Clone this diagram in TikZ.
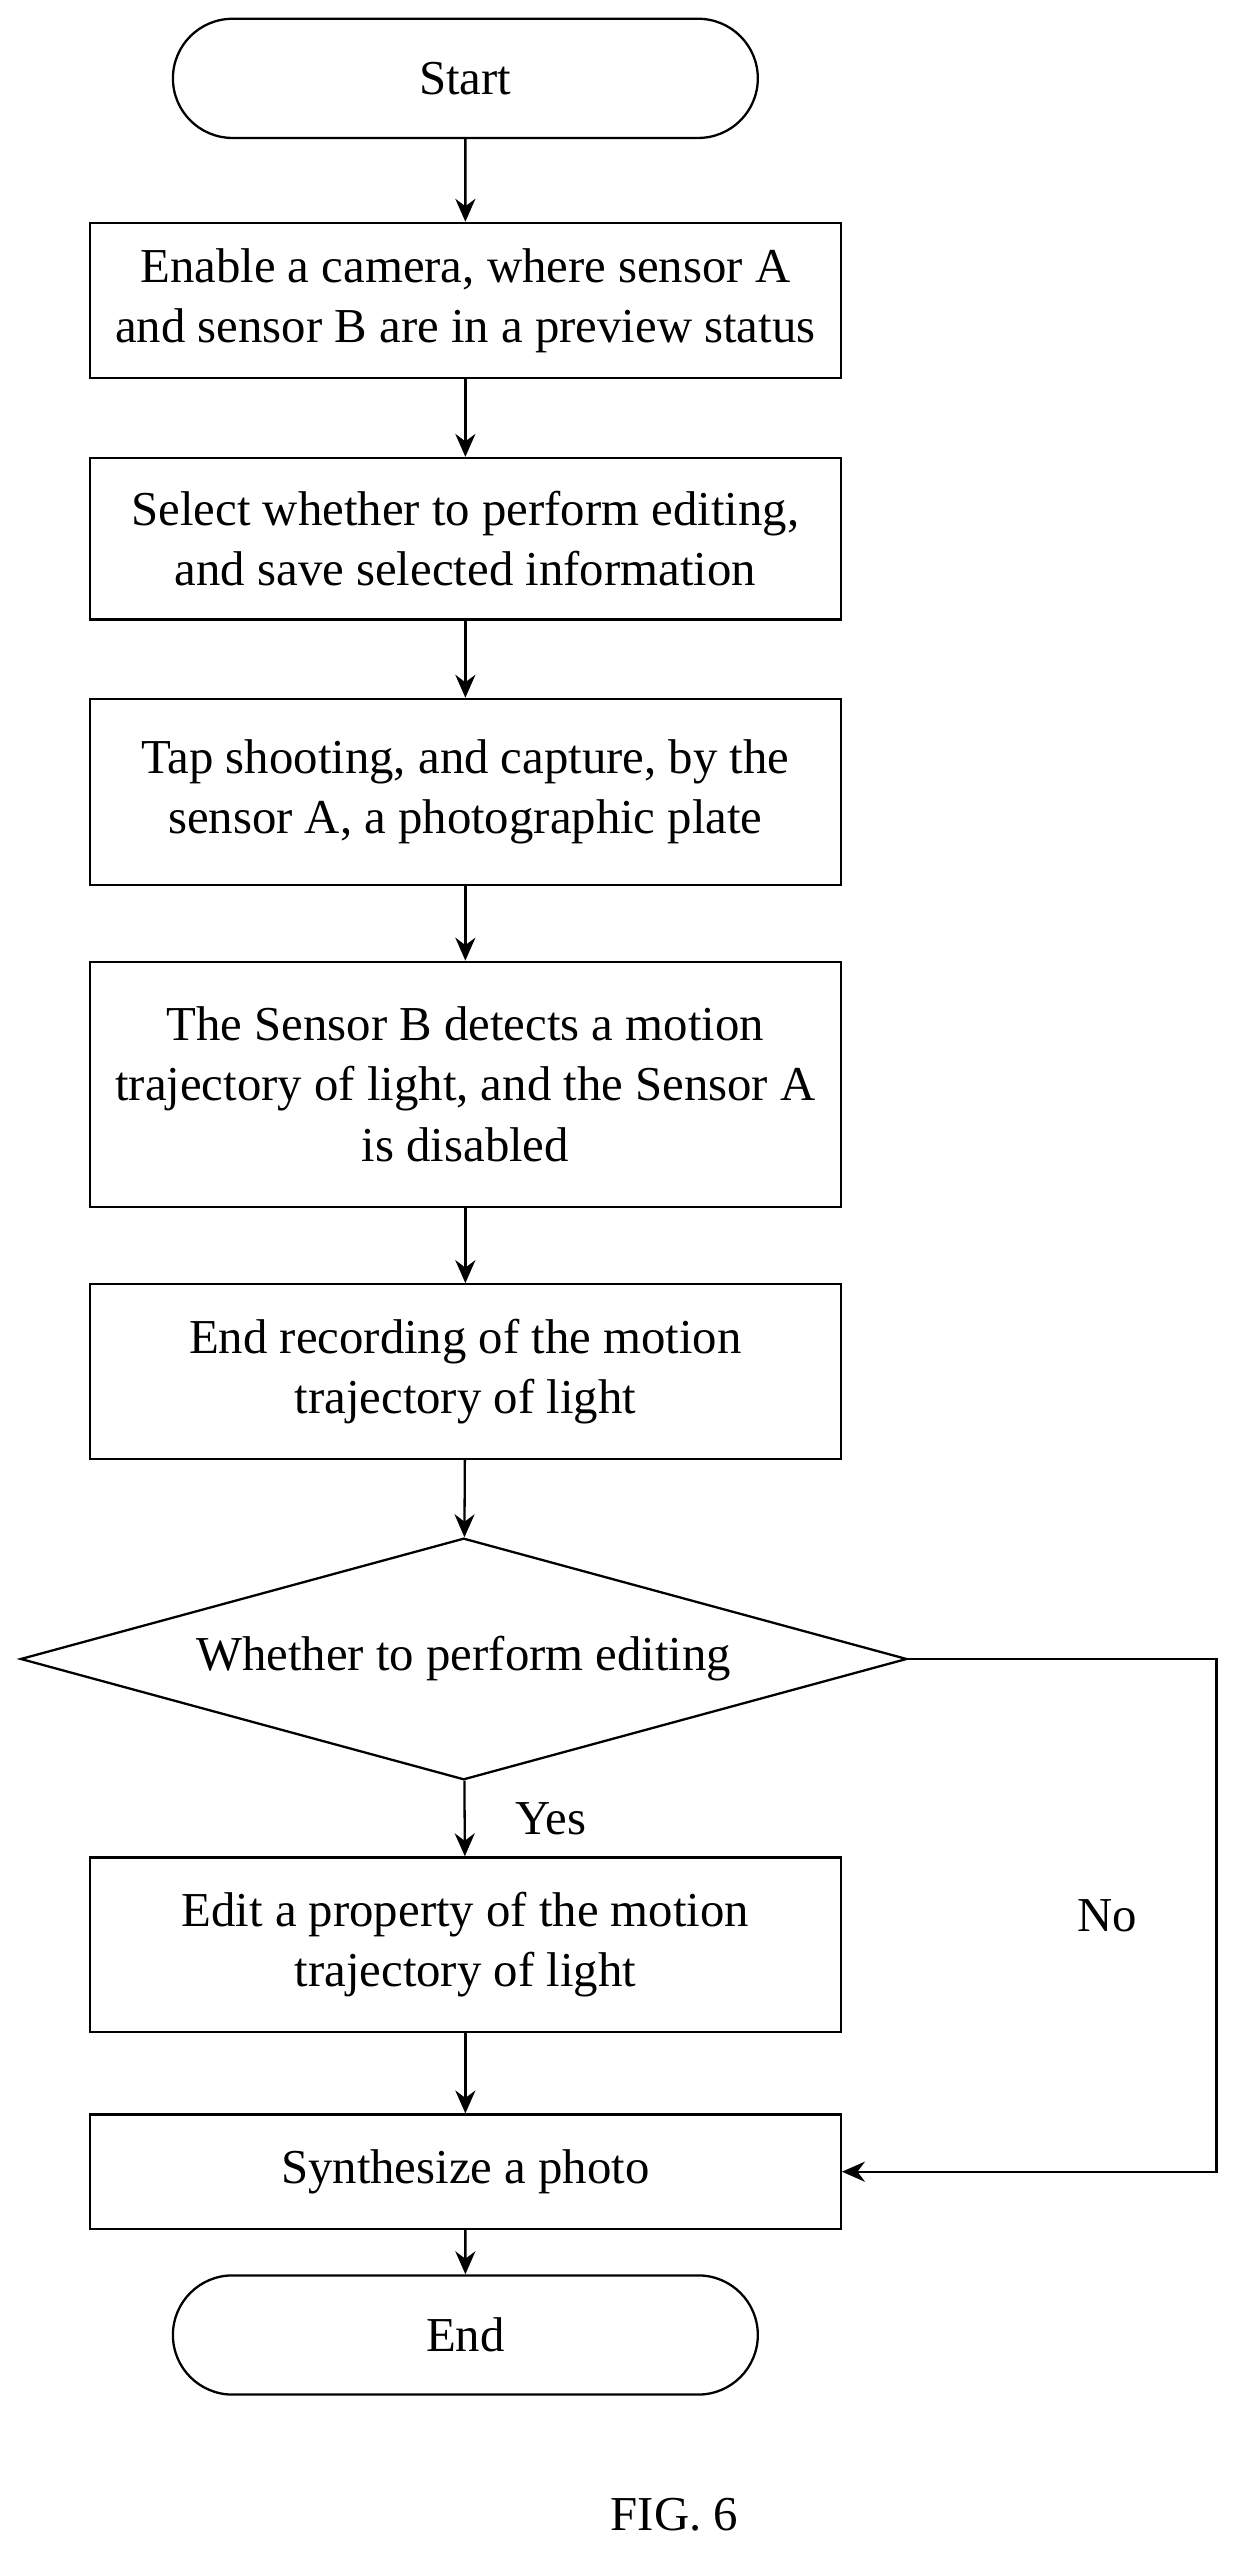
\documentclass[tikz,border=0pt]{standalone}
\usepackage{fontspec}
\setmainfont{Liberation Serif}
\usetikzlibrary{shapes.geometric,shapes.misc,arrows.meta}
\begin{document}
\begin{tikzpicture}[x=0.02cm,y=-0.02cm,
			font=\fontsize{17}{21}\selectfont,
			step node/.style={rectangle,draw,thick,minimum width=9.2cm,align=center,inner sep=2pt},
			term node/.style={rounded rectangle,draw,thick,minimum width=7.4cm,minimum height=1.46cm},
			test node/.style={diamond,draw,thick,aspect=3.67,minimum width=10.86cm,minimum height=2.96cm,inner sep=0pt},
			flow/.style={-{Stealth[length=8pt,width=7pt]},thick}
			]
			\useasboundingbox (0,0) rectangle (763,1577);

			\node[term node] at (285,48) (start) {Start};
			\node[step node,minimum height=1.9cm] at (285,184) (cam) {Enable a camera, where sensor A\\and sensor B are in a preview status};
			\node[step node,minimum height=1.98cm] at (285,330) (sel) {Select whether to perform editing,\\and save selected information};
			\node[step node,minimum height=2.28cm] at (285,485) (tap) {Tap shooting, and capture, by the\\sensor A, a photographic plate};
			\node[step node,minimum height=3cm] at (285,664) (det) {The Sensor B detects a motion\\trajectory of light, and the Sensor A\\is disabled};
			\node[step node,minimum height=2.14cm] at (285,840) (rec) {End recording of the motion\\trajectory of light};
			\node[test node] at (284,1016) (edit?) {Whether to perform editing};
			\node[step node,minimum height=2.14cm] at (285,1191) (prop) {Edit a property of the motion\\trajectory of light};
			\node[step node,minimum height=1.4cm] at (285,1330) (syn) {Synthesize a photo};
			\node[term node] at (285,1430) (end) {End};
			\node at (413,1540) (fig) {FIG. 6};

			\draw[flow] (start) -- (cam);
			\draw[flow] (cam) -- (sel);
			\draw[flow] (sel) -- (tap);
			\draw[flow] (tap) -- (det);
			\draw[flow] (det) -- (rec);
			\draw[flow] (rec) -- (edit?);
			\draw[flow] (edit?) -- node[right,xshift=14pt] {Yes} (prop);
			\draw[flow] (prop) -- (syn);
			\draw[flow] (syn) -- (end);
			\draw[flow] (edit?.east) -| (745,1330) node[pos=0.75,left,xshift=-24pt] {No} -- (syn.east);
		\end{tikzpicture}
\end{document}
